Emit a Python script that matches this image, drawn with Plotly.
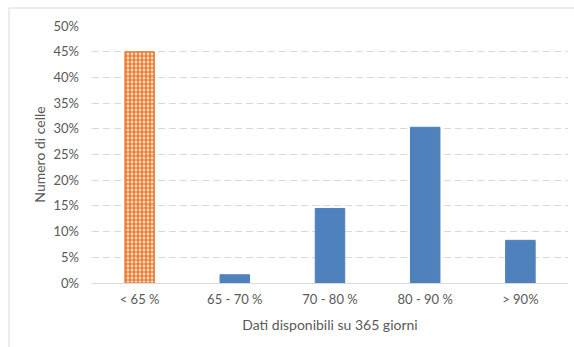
import plotly.graph_objects as go

categories = ["< 65 %", "65 - 70 %", "70 - 80 %", "80 - 90 %", "> 90%"]
shares = [45.0, 1.6, 14.5, 30.3, 8.3]
y_ticks = [0, 5, 10, 15, 20, 25, 30, 35, 40, 45, 50]
y_tick_labels = [f"{v}%" for v in y_ticks]

blue = "#4F81BD"
orange = "#ED7D31"
text_grey = "#595959"
font_family = "Lato, 'Open Sans', sans-serif"

edge_colors = [orange] + [blue] * (len(categories) - 1)
fill_colors = [orange] + [blue] * (len(categories) - 1)
pattern_shapes = ["."] + [""] * (len(categories) - 1)

fig = go.Figure(
    go.Bar(
        x=categories,
        y=shares,
        marker=dict(
            color=fill_colors,
            line=dict(color=edge_colors, width=1),
            pattern=dict(
                shape=pattern_shapes,
                fgcolor=orange,
                bgcolor="#F7C29C",
                size=4,
                solidity=0.7,
                fillmode="replace",
            ),
        ),
        hoverinfo="skip",
    )
)

fig.update_layout(
    width=574,
    height=347,
    margin=dict(l=92, r=6, t=26, b=64),
    paper_bgcolor="white",
    plot_bgcolor="white",
    bargap=0.69,
    showlegend=False,
    font=dict(family=font_family, size=13, color=text_grey),
    shapes=[
        dict(
            type="rect", xref="paper", yref="paper",
            x0=-83 / 476, x1=1.2, y0=-0.5, y1=1 + 18 / 257,
            line=dict(color="#D9D9D9", width=1), fillcolor="rgba(0,0,0,0)",
            layer="below",
        )
    ],
)

fig.update_xaxes(
    showgrid=False,
    showline=True,
    linecolor="#D9D9D9",
    linewidth=1,
    ticks="",
    ticklabelstandoff=4,
    tickfont=dict(size=13, color=text_grey),
    title=dict(text="Dati disponibili su 365 giorni", standoff=14,
               font=dict(size=14, color=text_grey)),
)

fig.update_yaxes(
    range=[0, 50],
    tickvals=y_ticks,
    ticktext=y_tick_labels,
    showgrid=True,
    gridcolor="#D9D9D9",
    griddash="7px,4px",
    gridwidth=1,
    zeroline=False,
    showline=False,
    ticks="",
    ticklabelstandoff=12,
    tickfont=dict(size=13, color=text_grey),
    title=dict(text="Numero di celle", standoff=4,
               font=dict(size=14, color=text_grey)),
)

fig.write_html("out.html")
